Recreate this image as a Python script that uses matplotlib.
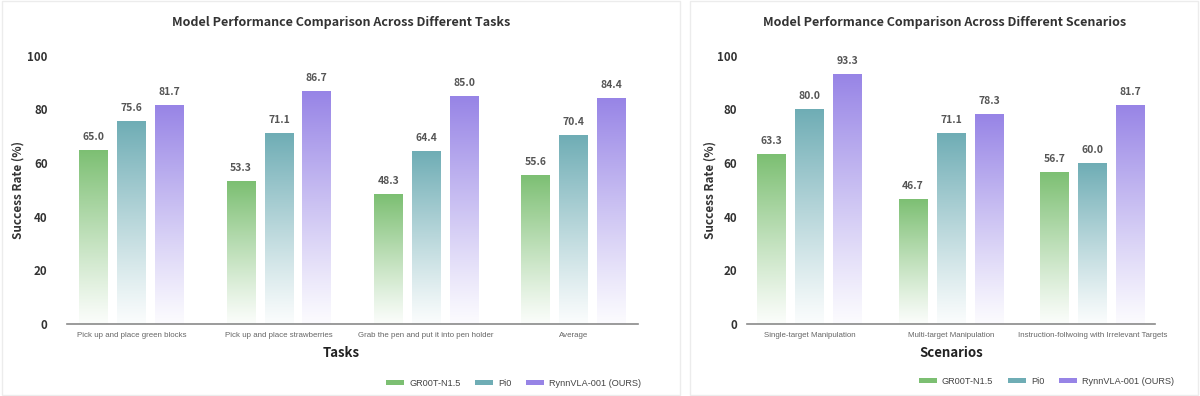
import numpy as np
import matplotlib
matplotlib.use('agg')
import matplotlib.pyplot as plt
from matplotlib.patches import Rectangle, Patch
from matplotlib.colors import to_rgb

models = ['GR00T-N1.5', 'Pi0', 'RynnVLA-001 (OURS)']
colors = ['#7cbf72', '#6fadb5', '#9784e6']

tasks = ['Pick up and place green blocks', 'Pick up and place strawberries',
         'Grab the pen and put it into pen holder', 'Average']
task_vals = [[65.0, 53.3, 48.3, 55.6],
             [75.6, 71.1, 64.4, 70.4],
             [81.7, 86.7, 85.0, 84.4]]

scenarios = ['Single-target Manipulation', 'Multi-target Manipulation',
             'Instruction-follwoing with Irrelevant Targets']
scen_vals = [[63.3, 46.7, 56.7],
             [80.0, 71.1, 60.0],
             [93.3, 78.3, 81.7]]

HEAD = ['Noto Sans CJK SC', 'DejaVu Sans']
BODY = ['Liberation Sans', 'DejaVu Sans']

fig = plt.figure(figsize=(12, 3.96), dpi=100)
fig.patch.set_facecolor('white')

# card outlines
for x0, w in [(0.002, 0.565), (0.575, 0.423)]:
    fig.patches.append(Rectangle((x0, 0.003), w, 0.994, transform=fig.transFigure,
                                 facecolor='none', edgecolor='#ececec', lw=1.0, zorder=-1))


def grad_bars(ax, cats, vals, width, step, ypad):
    x = np.arange(len(cats))
    for i, (v, c) in enumerate(zip(vals, colors)):
        bars = ax.bar(x + (i - 1) * step, v, width, color='none', edgecolor='none', zorder=2)
        rgb = np.array(to_rgb(c))
        t = np.linspace(0, 1, 256)[:, None]
        a = 0.03 + 0.97 * t ** 1.1
        img = (1 - a)[:, :, None] * np.ones(3) + a[:, :, None] * rgb
        img = img[::-1]
        for b, val in zip(bars, v):
            bx, bw, bh = b.get_x(), b.get_width(), b.get_height()
            im = ax.imshow(img, extent=(bx, bx + bw, 0, bh), aspect='auto', zorder=2,
                           interpolation='bilinear')
            im.set_clip_path(b)
            ax.text(bx + bw / 2, bh + 3, f'{val:.1f}', ha='center', va='bottom',
                    fontsize=7.5, color='#555555', family=HEAD, fontweight='bold')
    ax.set_xlim(-0.44, len(cats) - 0.56)
    ax.set_ylim(0, 100)
    ax.set_yticks([0, 20, 40, 60, 80, 100])
    ax.set_xticks(x)
    ax.set_xticklabels(cats, fontsize=5.7, color='#666666', family=BODY)
    for lab in ax.get_yticklabels():
        lab.set_family(HEAD)
        lab.set_fontweight('bold')
        lab.set_fontsize(8.3)
        lab.set_color('#333333')
    ax.tick_params(axis='both', length=0)
    ax.tick_params(axis='x', pad=6)
    ax.tick_params(axis='y', pad=ypad)
    for s in ['left', 'right', 'top']:
        ax.spines[s].set_visible(False)
    ax.spines['bottom'].set_color('#8a8a8a')
    ax.spines['bottom'].set_linewidth(1.2)
    ax.set_facecolor('none')


ax1 = fig.add_axes([0.0558, 0.182, 0.476, 0.677])
grad_bars(ax1, tasks, task_vals, 0.196, 0.257, 14)
ax2 = fig.add_axes([0.6225, 0.182, 0.34, 0.677])
grad_bars(ax2, scenarios, scen_vals, 0.204, 0.268, 7)

fig.text(0.284, 0.942, 'Model Performance Comparison Across Different Tasks',
         ha='center', va='center', fontsize=9, fontweight='bold', color='#333333', family=HEAD)
fig.text(0.7875, 0.942, 'Model Performance Comparison Across Different Scenarios',
         ha='center', va='center', fontsize=9, fontweight='bold', color='#333333', family=HEAD)

fig.text(0.284, 0.108, 'Tasks', ha='center', va='center', fontsize=9.5,
         fontweight='bold', color='#222222', family=HEAD)
fig.text(0.7925, 0.108, 'Scenarios', ha='center', va='center', fontsize=9.5,
         fontweight='bold', color='#222222', family=HEAD)

for xf in [0.015, 0.592]:
    fig.text(xf, 0.52, 'Success Rate (%)', rotation=90, ha='center', va='center',
             fontsize=8.5, fontweight='bold', color='#333333', family=HEAD)

handles = [Patch(facecolor=c, edgecolor='none') for c in colors]
for anchor in [(0.541, 0.0), (0.985, 0.005)]:
    fig.legend(handles, models, loc='lower right', bbox_to_anchor=anchor, ncol=3,
               frameon=False, prop={'family': BODY, 'size': 6.6},
               handlelength=2.0, handleheight=0.6, handletextpad=0.5, columnspacing=1.6,
               labelcolor='#444444')

fig.savefig('out.png', dpi=100, facecolor='white')
